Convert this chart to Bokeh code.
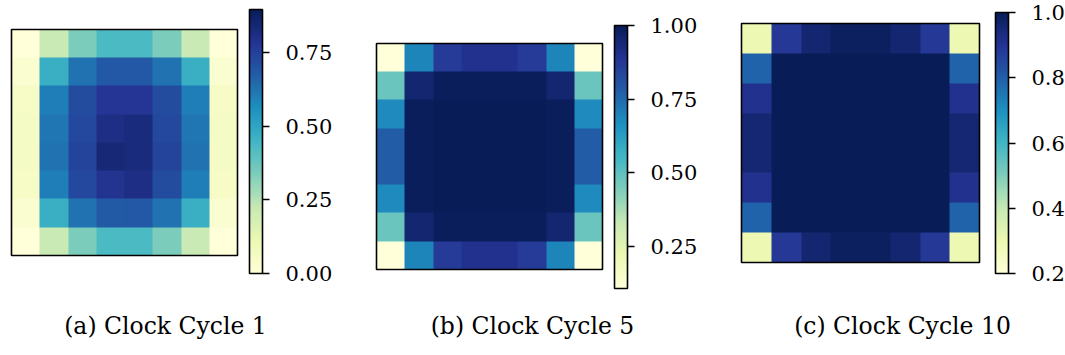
import numpy as np
from bokeh.plotting import figure
from bokeh.models import LinearColorMapper, ColorBar, FixedTicker, PrintfTickFormatter, Range1d
from bokeh.palettes import YlGnBu9
from bokeh.embed import file_html
from bokeh.resources import INLINE
from bokeh.core.properties import value

# ---------------- data ----------------
captions = ["(a) Clock Cycle 1", "(b) Clock Cycle 5", "(c) Clock Cycle 10"]

cycle1 = [
    [0.00, 0.22, 0.34, 0.43, 0.43, 0.34, 0.22, 0.00],
    [0.03, 0.47, 0.63, 0.69, 0.69, 0.63, 0.47, 0.03],
    [0.05, 0.60, 0.72, 0.78, 0.78, 0.72, 0.60, 0.05],
    [0.06, 0.62, 0.73, 0.81, 0.83, 0.73, 0.62, 0.06],
    [0.06, 0.63, 0.74, 0.84, 0.83, 0.74, 0.63, 0.06],
    [0.05, 0.60, 0.73, 0.79, 0.81, 0.72, 0.60, 0.05],
    [0.03, 0.47, 0.63, 0.68, 0.69, 0.63, 0.47, 0.03],
    [0.00, 0.22, 0.34, 0.43, 0.43, 0.34, 0.22, 0.00],
]
cycle5 = [
    [0.106, 0.69, 0.87, 0.90, 0.90, 0.87, 0.69, 0.106],
    [0.48, 0.955, 0.99, 0.995, 0.995, 0.99, 0.955, 0.48],
    [0.68, 0.99, 1.00, 1.00, 1.00, 1.00, 0.99, 0.68],
    [0.78, 0.995, 1.00, 1.00, 1.00, 1.00, 0.995, 0.78],
    [0.78, 0.995, 1.00, 1.00, 1.00, 1.00, 0.995, 0.78],
    [0.68, 0.99, 1.00, 1.00, 1.00, 1.00, 0.99, 0.68],
    [0.48, 0.955, 0.99, 0.995, 0.995, 0.99, 0.955, 0.48],
    [0.106, 0.69, 0.87, 0.90, 0.90, 0.87, 0.69, 0.106],
]
cycle10 = [
    [0.30, 0.89, 0.96, 0.985, 0.985, 0.96, 0.89, 0.30],
    [0.79, 1.00, 1.00, 1.00, 1.00, 1.00, 1.00, 0.79],
    [0.91, 1.00, 1.00, 1.00, 1.00, 1.00, 1.00, 0.91],
    [0.955, 1.00, 1.00, 1.00, 1.00, 1.00, 1.00, 0.955],
    [0.955, 1.00, 1.00, 1.00, 1.00, 1.00, 1.00, 0.955],
    [0.91, 1.00, 1.00, 1.00, 1.00, 1.00, 1.00, 0.91],
    [0.79, 1.00, 1.00, 1.00, 1.00, 1.00, 1.00, 0.79],
    [0.30, 0.89, 0.96, 0.985, 0.985, 0.96, 0.89, 0.30],
]
cbar_limits = [(0.0, 0.897), (0.106, 1.0), (0.2, 1.0)]
cbar_ticks = [[0.0, 0.25, 0.5, 0.75], [0.25, 0.5, 0.75, 1.0], [0.2, 0.4, 0.6, 0.8, 1.0]]
cbar_formats = ["%.2f", "%.2f", "%.1f"]

# ---------------- layout / style ----------------
W, H = 1065, 355
heat_boxes = [(11, 100, 226, 226), (376, 86, 226, 226), (741, 93, 238, 239)]   # x, y, dw, dh
cbar_boxes = [(249, 82, 13, 264), (614, 67, 13, 263), (995, 82, 13, 261)]      # x, y(from bottom), w, h
caption_pos = [(165, 30), (532, 30), (902, 30)]
FONT = "DejaVu Serif"

# YlGnBu, interpolated to 256 steps (like matplotlib's colormap)
base = list(YlGnBu9[::-1])
rgb = np.array([[int(c[i:i + 2], 16) for i in (1, 3, 5)] for c in base], dtype=float)
pos = np.linspace(0, 1, len(base))
t = np.linspace(0, 1, 256)
palette = ["#%02x%02x%02x" % tuple(int(round(np.interp(tt, pos, rgb[:, k]))) for k in range(3)) for tt in t]

p = figure(width=W, height=H, output_backend="svg", toolbar_location=None,
           x_range=Range1d(0, W), y_range=Range1d(0, H),
           x_axis_type=None, y_axis_type=None,
           min_border=0, min_border_left=0, min_border_right=0,
           min_border_top=0, min_border_bottom=0)
p.outline_line_color = None
p.grid.visible = False
p.background_fill_color = "white"

datasets = [cycle1, cycle5, cycle10]
for data, (lo, hi), (x, y, dw, dh), (cx, cy, cw, ch), ticks, fmt in zip(
        datasets, cbar_limits, heat_boxes, cbar_boxes, cbar_ticks, cbar_formats):
    arr = np.flipud(np.array(data, dtype=float))
    mapper = LinearColorMapper(palette=palette, low=lo, high=hi)
    p.image(image=[arr], x=x, y=y, dw=dw, dh=dh, color_mapper=mapper)
    p.quad(left=x, right=x + dw, bottom=y, top=y + dh, fill_color=None,
           line_color="black", line_width=1.6)
    cb = ColorBar(color_mapper=mapper, location=(cx, cy), width=cw, height=ch,
                  padding=0, margin=0, orientation="vertical",
                  ticker=FixedTicker(ticks=ticks),
                  formatter=PrintfTickFormatter(format=fmt),
                  bar_line_color="black", bar_line_width=1.6,
                  major_tick_in=0, major_tick_out=7,
                  major_tick_line_color="black", major_tick_line_width=1.6,
                  minor_tick_line_color=None,
                  label_standoff=16,
                  major_label_text_font=FONT,
                  major_label_text_font_size="21px",
                  major_label_text_color="black",
                  background_fill_alpha=0, border_line_color=None)
    p.add_layout(cb, "center")

p.text(x=[c[0] for c in caption_pos], y=[c[1] for c in caption_pos], text=captions,
       text_align="center", text_baseline="middle",
       text_font=value(FONT), text_font_size="23.5px", text_color="black")

open("out.html", "w").write(file_html(p, INLINE))
